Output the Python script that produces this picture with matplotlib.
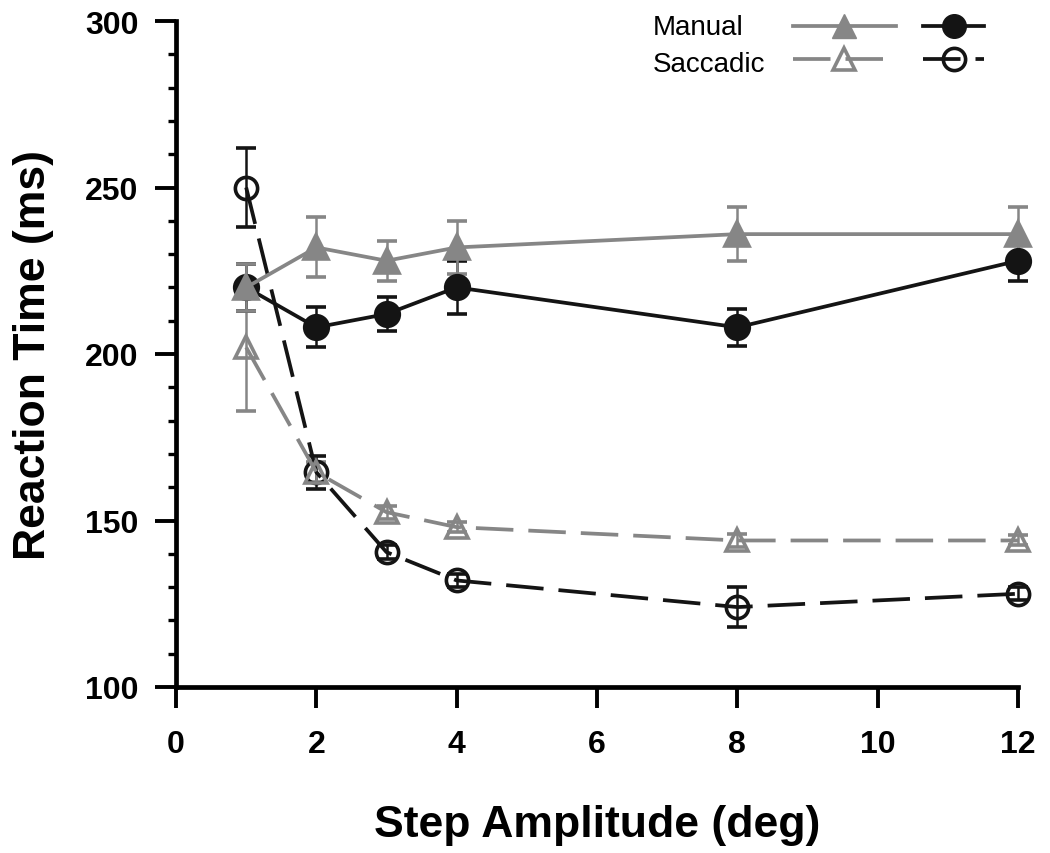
import matplotlib
matplotlib.use("Agg")
import matplotlib.pyplot as plt
from matplotlib.lines import Line2D
from matplotlib.ticker import MultipleLocator

plt.rcParams["font.family"] = ["Liberation Sans", "DejaVu Sans"]

# step amplitudes (deg)
AMPLITUDE = [1, 2, 3, 4, 8, 12]
# manual RT, gray series (filled triangles) and black series (filled circles)
MANUAL_GRAY = [220, 232, 228, 232, 236, 236]
MANUAL_GRAY_ERR = [7, 9, 6, 8, 8, 8]
MANUAL_BLACK = [220, 208, 212, 220, 208, 228]
MANUAL_BLACK_ERR = [7, 6, 5, 8, 5.5, 6]
# saccadic RT, gray (open triangles) and black (open circles)
SACC_GRAY = [202, 164.5, 152.5, 148, 144, 144]
SACC_GRAY_ERR = [19, 3, 2, 1.5, 2, 1.5]
SACC_BLACK = [250, 164.5, 140.5, 132, 124, 128]
SACC_BLACK_ERR = [12, 5, 2, 2, 6, 2]

GRAY = "#868686"
BLACK = "#141414"
LW = 2.7
DASH = (0, (10, 4))

fig = plt.figure(figsize=(10.5, 8.54), dpi=100)
ax = fig.add_axes([176 / 1050, 1 - 688 / 854, 842 / 1050, 666 / 854])


def series(y, err, color, marker, filled, ls, ms):
    cont = ax.errorbar(AMPLITUDE, y, yerr=err, color=color, ecolor=color, lw=LW, ls=ls,
                       marker=marker, ms=ms, mfc=color if filled else "none",
                       mec=color, mew=2.6, elinewidth=1.8, capsize=7.5, capthick=1.8)
    arts = [cont.lines[0]] + list(cont.lines[1]) + list(cont.lines[2])
    for art in arts:
        art.set_clip_on(False)
    return cont


series(SACC_BLACK, SACC_BLACK_ERR, BLACK, "o", False, DASH, 16)
series(SACC_GRAY, SACC_GRAY_ERR, GRAY, "^", False, DASH, 16)
series(MANUAL_BLACK, MANUAL_BLACK_ERR, BLACK, "o", True, "-", 17)
series(MANUAL_GRAY, MANUAL_GRAY_ERR, GRAY, "^", True, "-", 17)

ax.set_xlim(0, 12)
ax.set_ylim(100, 300)
ax.xaxis.set_major_locator(MultipleLocator(2))
ax.yaxis.set_major_locator(MultipleLocator(50))
ax.yaxis.set_minor_locator(MultipleLocator(10))
for s in ("top", "right"):
    ax.spines[s].set_visible(False)
for s in ("left", "bottom"):
    ax.spines[s].set_linewidth(3.4)
ax.tick_params(which="major", direction="out", length=15, width=2.8, labelsize=23)
ax.tick_params(axis="x", pad=15)
ax.tick_params(axis="y", pad=12)
ax.tick_params(which="minor", direction="out", length=6, width=2.4)
for lab in ax.get_xticklabels() + ax.get_yticklabels():
    lab.set_fontweight("bold")

ax.set_xlabel("Step Amplitude (deg)", fontsize=32, fontweight="bold")
ax.set_ylabel("Reaction Time (ms)", fontsize=32, fontweight="bold")
ax.xaxis.set_label_coords(0.5, -0.175)
ax.yaxis.set_label_coords(-0.145, 0.5)

# legend: two columns of handles (gray / black), labels on the left
gray_h = [Line2D([], [], color=GRAY, lw=LW, marker="^", ms=17, mfc=GRAY, mec=GRAY),
          Line2D([], [], color=GRAY, lw=LW, ls=DASH, marker="^", ms=16, mfc="none",
                 mec=GRAY, mew=2.6)]
black_h = [Line2D([], [], color=BLACK, lw=LW, marker="o", ms=17, mfc=BLACK, mec=BLACK),
           Line2D([], [], color=BLACK, lw=LW, ls=DASH, marker="o", ms=16, mfc="none",
                  mec=BLACK, mew=2.6)]
legend_kw = dict(loc="center left", frameon=False, fontsize=20, borderpad=0,
                 borderaxespad=0, handletextpad=0, labelspacing=0.25,
                 bbox_transform=fig.transFigure)
leg1 = ax.legend(gray_h, ["", ""], handlelength=3.7,
                 bbox_to_anchor=(793 / 1050, 1 - 46.5 / 854), **legend_kw)
ax.add_artist(leg1)
ax.legend(black_h, ["", ""], handlelength=2.2,
          bbox_to_anchor=(923 / 1050, 1 - 46.5 / 854), **legend_kw)
fig.text(653 / 1050, 1 - 28 / 854, "Manual", fontsize=20, va="center", ha="left")
fig.text(653 / 1050, 1 - 65 / 854, "Saccadic", fontsize=20, va="center", ha="left")

fig.savefig("out.png", dpi=100, facecolor="white")
